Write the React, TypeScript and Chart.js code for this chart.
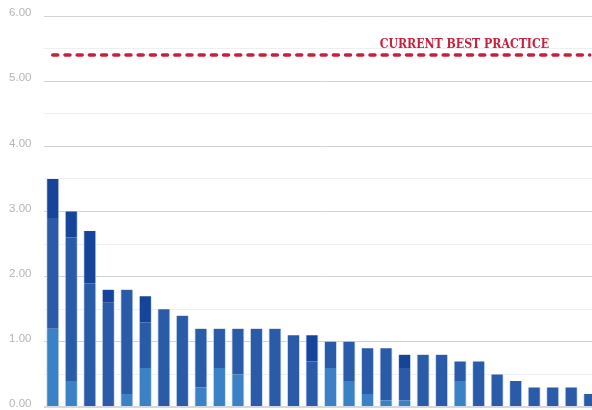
import React, { useEffect, useRef } from "react";
import { Chart, registerables } from "chart.js";

Chart.register(...registerables);

const categories = Array.from({ length: 30 }, (_, i) => String(i + 1));
const lightSegment = [1.2, 0.4, 0, 0, 0.2, 0.6, 0, 0, 0.3, 0.6, 0.5, 0, 0, 0, 0, 0.6, 0.4, 0.2, 0.1, 0.1, 0, 0, 0.4, 0, 0, 0, 0, 0, 0, 0];
const midSegment = [1.7, 2.2, 1.9, 1.6, 1.6, 0.7, 1.5, 1.4, 0.9, 0.6, 0.7, 1.2, 1.2, 1.1, 0.7, 0.4, 0.6, 0.7, 0.8, 0.5, 0.8, 0.8, 0.3, 0.7, 0.5, 0.4, 0.3, 0.3, 0.3, 0.2];
const darkSegment = [0.6, 0.4, 0.8, 0.2, 0, 0.4, 0, 0, 0, 0, 0, 0, 0, 0, 0.4, 0, 0, 0, 0, 0.2, 0, 0, 0, 0, 0, 0, 0, 0, 0, 0];
const bestPractice = 5.4;
const bestPracticeLabel = "CURRENT BEST PRACTICE";
const yMin = 0;
const yMax = 6;
const yStep = 0.5;

const nz = (arr: number[]) => arr.map((v) => (v === 0 ? null : v));

const labelPlugin = {
  id: "bestPracticeLabel",
  afterDatasetsDraw(chart: any) {
    const { ctx, scales } = chart;
    const y = scales.y.getPixelForValue(bestPractice);
    ctx.save();
    ctx.font = 'bold 12.2px "DejaVu Serif Condensed", "DejaVu Serif", serif';
    ctx.fillStyle = "#c91f3a";
    ctx.textAlign = "right";
    ctx.textBaseline = "alphabetic";
    ctx.fillText(bestPracticeLabel, 549, y - 7.5);
    ctx.restore();
  },
};

export default function App() {
  const ref = useRef<HTMLCanvasElement>(null);
  useEffect(() => {
    if (!ref.current) return;
    const border = "rgba(185,205,238,0.7)";
    const bw = { left: 1, right: 1, top: 0, bottom: 0 };
    const chart = new Chart(ref.current, {
      type: "bar",
      data: {
        labels: categories,
        datasets: [
          {
            type: "line",
            data: categories.map(() => bestPractice),
            borderColor: "#c91f3a",
            borderWidth: 3.5,
            borderDash: [5, 7.2],
            borderCapStyle: "round",
            pointRadius: 0,
            fill: false,
            stack: "line",
            order: 0,
          } as any,
          {
            data: nz(lightSegment),
            backgroundColor: "#3b81c5",
            borderColor: border,
            borderWidth: bw,
            inflateAmount: 0.5,
            stack: "bars",
            order: 1,
          },
          {
            data: nz(midSegment),
            backgroundColor: "#2a5ba8",
            borderColor: border,
            borderWidth: bw,
            inflateAmount: 0.5,
            stack: "bars",
            order: 1,
          },
          {
            data: nz(darkSegment),
            backgroundColor: "#17449b",
            borderColor: border,
            borderWidth: bw,
            inflateAmount: 0.5,
            stack: "bars",
            order: 1,
          },
        ],
      },
      options: {
        responsive: false,
        animation: false,
        devicePixelRatio: 1,
        layout: { padding: { top: 16, bottom: 3, left: 0, right: 0 } },
        plugins: { legend: { display: false }, tooltip: { enabled: false } },
        datasets: { bar: { barPercentage: 0.65, categoryPercentage: 1 } },
        scales: {
          x: { display: false, stacked: true },
          y: {
            stacked: true,
            min: yMin,
            max: yMax,
            border: { display: false },
            grid: {
              drawTicks: false,
              color: (c: any) => (c.tick && c.tick.value === 0 ? "#d8d8d8" : c.tick && c.tick.value % 1 === 0 ? "#d2d2d2" : "#efefef"),
              lineWidth: (c: any) => (c.tick && c.tick.value === 0 ? 2 : 1),
            },
            ticks: {
              stepSize: yStep,
              padding: 12,
              labelOffset: -3,
              color: "#b5b5b5",
              font: { family: '"Liberation Sans", Arial, sans-serif', size: 11.5 },
              callback: (v: any) => (Number(v) % 1 === 0 ? Number(v).toFixed(2) : ""),
            },
            afterFit: (s: any) => {
              s.width = 43.5;
              s.paddingTop = 0;
              s.paddingBottom = 0;
            },
          },
        },
      },
      plugins: [labelPlugin],
    });
    return () => chart.destroy();
  }, []);
  return (
    <div style={{ position: "fixed", left: 0, top: 0, width: 592, height: 410, overflow: "hidden", background: "#fff" }}>
      <canvas ref={ref} width={599} height={410} style={{ display: "block" }} />
    </div>
  );
}
